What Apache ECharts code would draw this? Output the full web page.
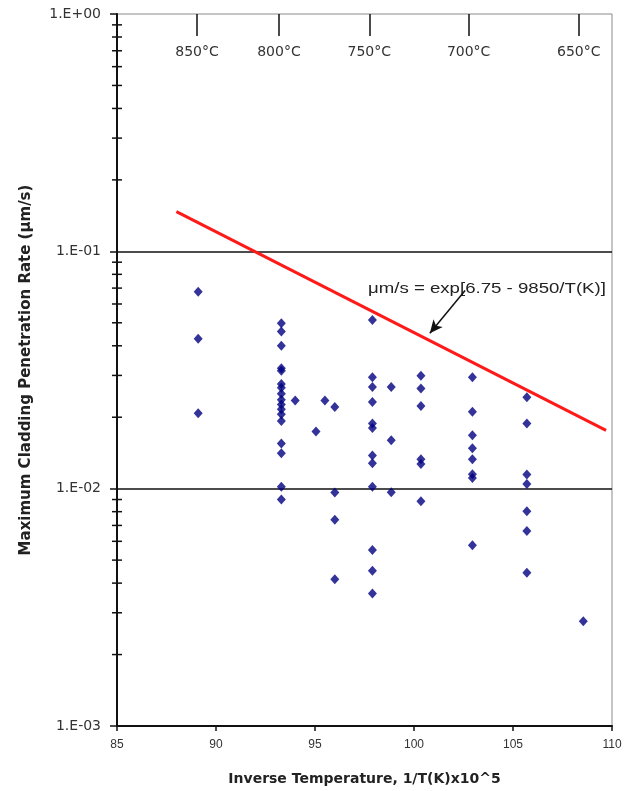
<!DOCTYPE html>
<html>
<head>
<meta charset="utf-8">
<script src="https://cdn.jsdelivr.net/npm/echarts@6/dist/echarts.min.js"></script>
<style>html,body{margin:0;padding:0;background:#fff;}#c{width:631px;height:791px;}</style>
</head>
<body>
<div id="c"></div>
<script>
// Inverse temperature columns (1/T(K) x 1e5)
const invTemp = [89.1, 93.3, 94.0, 95.05, 95.5, 96.0, 97.9, 98.85, 100.35, 102.95, 105.7, 108.55];
// Maximum cladding penetration rates (um/s) for each column
const rates = [
  [0.0676, 0.0428, 0.0208],
  [0.0498, 0.0459, 0.0400, 0.0322, 0.0314, 0.0276, 0.0266, 0.0251, 0.0237, 0.0226, 0.0216, 0.0206, 0.0193, 0.0155, 0.0141, 0.0102, 0.0090],
  [0.0235],
  [0.0174],
  [0.0235],
  [0.0221, 0.00963, 0.0074, 0.00415],
  [0.0514, 0.0295, 0.0268, 0.0232, 0.0188, 0.0180, 0.0138, 0.0128, 0.0102, 0.00551, 0.00451, 0.00362],
  [0.0268, 0.0160, 0.00966],
  [0.0299, 0.0264, 0.0223, 0.0133, 0.0127, 0.00886],
  [0.0295, 0.0211, 0.0168, 0.0148, 0.0133, 0.0115, 0.0111, 0.00578],
  [0.0243, 0.0188, 0.01146, 0.01047, 0.00804, 0.00663, 0.00442],
  [0.00276]
];
// Fit line end points
const fitX = [88.0, 109.7];
const fitY = [0.147, 0.0176];
// Top temperature scale
const tempPositions = [89.04, 93.18, 97.74, 102.76, 108.32];
const tempLabels = ['850°C', '800°C', '750°C', '700°C', '650°C'];
// Axis ticks
const xTicks = [85, 90, 95, 100, 105, 110];
const yMinorTicks = [0.002,0.003,0.004,0.005,0.006,0.007,0.008,0.009,
                     0.02,0.03,0.04,0.05,0.06,0.07,0.08,0.09,
                     0.2,0.3,0.4,0.5,0.6,0.7,0.8,0.9];
// Annotation
const fitLabel = 'μm/s = exp[6.75 - 9850/T(K)]';
const arrowFrom = [102.58, 0.0684];
const arrowTo = [100.8, 0.0452];

const scatterData = [];
invTemp.forEach((x, i) => rates[i].forEach(v => scatterData.push([x, v])));
const fitData = fitX.map((x, i) => [x, fitY[i]]);

const font = '"Liberation Sans", Arial, sans-serif';
const wide = '"DejaVu Sans", sans-serif';
const txt = '#333';

const chart = echarts.init(document.getElementById('c'), null, {renderer: 'canvas'});
chart.setOption({
  animation: false,
  backgroundColor: '#fff',
  grid: {left: 117, right: 19, top: 14, bottom: 61, show: true, borderColor: '#8a8a8a', borderWidth: 1, backgroundColor: 'transparent'},
  xAxis: [{
    type: 'value', min: 85, max: 110, interval: 5,
    position: 'bottom',
    axisLine: {show: true, lineStyle: {color: '#111', width: 2}},
    axisTick: {show: true, length: 5, lineStyle: {color: '#111', width: 1.5}},
    axisLabel: {color: txt, fontFamily: font, fontSize: 12, margin: 13, customValues: xTicks},
    splitLine: {show: false},
    name: 'Inverse Temperature, 1/T(K)x10^5',
    nameLocation: 'middle', nameGap: 46,
    nameTextStyle: {color: '#222', fontFamily: wide, fontSize: 14, fontWeight: 'bold'}
  }, {
    type: 'value', min: 85, max: 110,
    position: 'top',
    axisLine: {show: false},
    axisTick: {show: true, inside: true, length: 22, customValues: tempPositions, lineStyle: {color: '#111', width: 1.5}},
    axisLabel: {show: true, inside: true, margin: 31, color: txt, fontFamily: wide, fontSize: 14,
      customValues: tempPositions,
      formatter: v => { const i = tempPositions.indexOf(v); return i >= 0 ? tempLabels[i] : ''; }},
    splitLine: {show: false}
  }],
  yAxis: [{
    type: 'log', logBase: 10, min: 0.001, max: 1,
    axisLine: {show: true, lineStyle: {color: '#111', width: 2}},
    axisTick: {show: true, length: 7, lineStyle: {color: '#111', width: 1.5}},
    axisLabel: {color: txt, fontFamily: wide, fontSize: 14, margin: 16,
      formatter: v => { const e = Math.round(Math.log10(v)); return '1.E' + (e < 0 ? '-' : '+') + String(Math.abs(e)).padStart(2, '0'); }},
    splitLine: {show: true, showMinLine: false, showMaxLine: false, lineStyle: {color: '#111', width: 1.5}},
    minorTick: {show: false},
    name: 'Maximum Cladding Penetration Rate (μm/s)',
    nameLocation: 'middle', nameGap: 83, nameRotate: 90,
    nameTextStyle: {color: '#222', fontFamily: wide, fontSize: 15, fontWeight: 'bold'}
  }],
  series: [{
    type: 'custom',
    silent: true,
    data: yMinorTicks.map(v => [85, v]),
    renderItem: (params, api) => {
      const p = api.coord([api.value(0), api.value(1)]);
      return {type: 'line', shape: {x1: p[0] - 5, y1: p[1], x2: p[0] + 5, y2: p[1]}, style: {stroke: '#111', lineWidth: 1.5}};
    },
    clip: false,
    z: 5
  }, {
    type: 'line',
    data: fitData,
    symbol: 'none',
    lineStyle: {color: '#ff1a1a', width: 3},
    z: 3,
    markLine: {
      silent: true,
      symbol: ['none', 'arrow'],
      symbolSize: [9, 13],
      label: {show: false},
      lineStyle: {color: '#111', width: 1.5, type: 'solid'},
      data: [[{coord: arrowFrom}, {coord: arrowTo}]]
    }
  }, {
    type: 'scatter',
    data: scatterData,
    symbol: 'diamond',
    symbolSize: [9, 10],
    itemStyle: {color: '#000080'},
    z: 4
  }],
  graphic: [{
    type: 'text', x: 368, y: 289, scaleX: 1.33,
    style: {text: fitLabel, fill: '#222', font: '14px ' + font, verticalAlign: 'middle'}
  }]
});
</script>
</body>
</html>
